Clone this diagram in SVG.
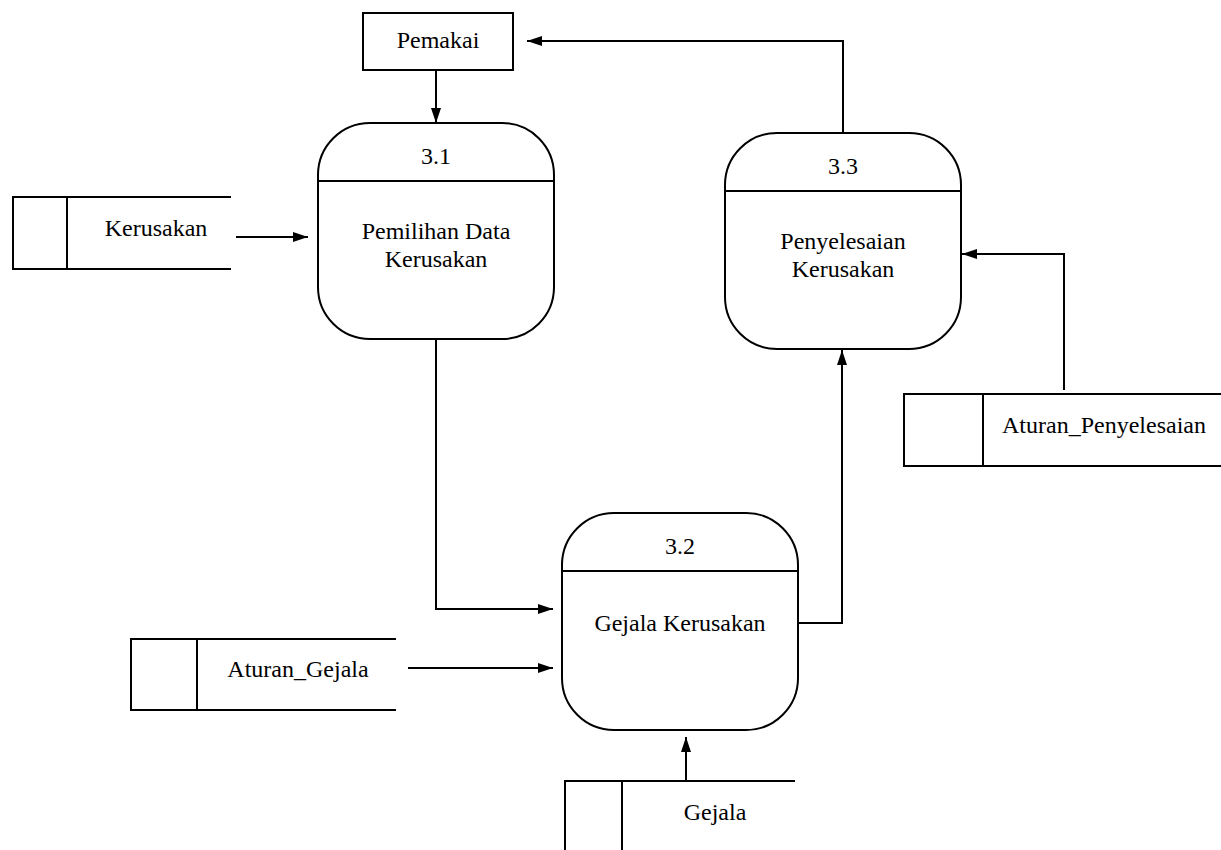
<svg xmlns="http://www.w3.org/2000/svg" width="1221" height="850" viewBox="0 0 1221 850">
  <defs>
    <marker id="arrow" markerWidth="15" markerHeight="10" refX="15" refY="5" orient="auto" markerUnits="userSpaceOnUse">
      <path d="M0,0 L15,5 L0,10 Z" fill="#000"/>
    </marker>
  </defs>
  <rect width="1221" height="850" fill="#fff"/>

  <!-- shapes: white fill, 2px black outline -->
  <g fill="#fff" stroke="#000" stroke-width="2">
    <!-- external entity -->
    <g id="pemakai">
      <rect x="363" y="13" width="150" height="57"/>
      <text x="438" y="48" font-family="Liberation Serif" font-size="24" text-anchor="middle" fill="#000" stroke="none">Pemakai</text>
    </g>

    <!-- processes -->
    <g id="proc-3-1">
      <rect x="318" y="123" width="236" height="216" rx="52" ry="52"/>
      <line x1="318" y1="181" x2="554" y2="181"/>
      <text x="436" y="164" font-family="Liberation Serif" font-size="24" text-anchor="middle" fill="#000" stroke="none">3.1</text>
      <text x="436" y="239" font-family="Liberation Serif" font-size="24" text-anchor="middle" fill="#000" stroke="none">Pemilihan Data</text>
      <text x="436" y="267" font-family="Liberation Serif" font-size="24" text-anchor="middle" fill="#000" stroke="none">Kerusakan</text>
    </g>

    <g id="proc-3-3">
      <rect x="725" y="133" width="236" height="216" rx="52" ry="52"/>
      <line x1="725" y1="191" x2="961" y2="191"/>
      <text x="843" y="174" font-family="Liberation Serif" font-size="24" text-anchor="middle" fill="#000" stroke="none">3.3</text>
      <text x="843" y="249" font-family="Liberation Serif" font-size="24" text-anchor="middle" fill="#000" stroke="none">Penyelesaian</text>
      <text x="843" y="277" font-family="Liberation Serif" font-size="24" text-anchor="middle" fill="#000" stroke="none">Kerusakan</text>
    </g>

    <g id="proc-3-2">
      <rect x="562" y="513" width="236" height="217" rx="52" ry="52"/>
      <line x1="562" y1="571" x2="798" y2="571"/>
      <text x="680" y="554" font-family="Liberation Serif" font-size="24" text-anchor="middle" fill="#000" stroke="none">3.2</text>
      <text x="680" y="631" font-family="Liberation Serif" font-size="24" text-anchor="middle" fill="#000" stroke="none">Gejala Kerusakan</text>
    </g>

    <!-- data stores: open-ended boxes -->
    <g id="store-kerusakan">
      <path fill="none" d="M231,197 H13 V269 H231 M67,197 V269"/>
      <text x="156" y="236" font-family="Liberation Serif" font-size="24" text-anchor="middle" fill="#000" stroke="none">Kerusakan</text>
    </g>

    <g id="store-aturan-gejala">
      <path fill="none" d="M396,639 H131 V710 H396 M197,639 V710"/>
      <text x="298" y="677" font-family="Liberation Serif" font-size="24" text-anchor="middle" fill="#000" stroke="none">Aturan_Gejala</text>
    </g>

    <g id="store-aturan-penyelesaian">
      <path fill="none" d="M1221,394 H904 V466 H1221 M983,394 V466"/>
      <text x="1104" y="433" font-family="Liberation Serif" font-size="24" text-anchor="middle" fill="#000" stroke="none">Aturan_Penyelesaian</text>
    </g>

    <g id="store-gejala">
      <path fill="none" d="M795,781 H565 V850 M622,781 V850"/>
      <text x="715" y="820" font-family="Liberation Serif" font-size="24" text-anchor="middle" fill="#000" stroke="none">Gejala</text>
    </g>
  </g>

  <!-- data flows -->
  <g id="connectors" fill="none" stroke="#000" stroke-width="2" marker-end="url(#arrow)">
    <path d="M436,70 V123"/>
    <path d="M843,133 V41 H527"/>
    <path d="M236,237 H308"/>
    <path d="M436,339 V609 H553"/>
    <path d="M408,668 H553"/>
    <path d="M686,781 V737"/>
    <path d="M798,623 H842 V350"/>
    <path d="M1064,390 V254 H962"/>
  </g>
</svg>
